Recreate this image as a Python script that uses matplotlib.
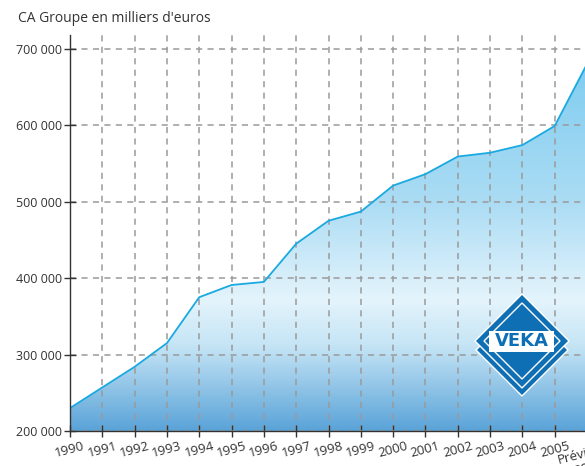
import matplotlib.pyplot as plt
import numpy as np
from matplotlib.colors import LinearSegmentedColormap
from matplotlib.patches import Polygon, Rectangle

years = list(range(1990, 2007))
ca = [230000, 257000, 284000, 315000, 375000, 391000, 395000, 445000,
      475000, 487000, 521000, 536000, 559000, 564000, 574000, 599000, 680000]
labels = [str(y) for y in years[:-1]] + ["Prévision\n2006"]
yticks = [200000, 300000, 400000, 500000, 600000, 700000]

plt.rcParams['font.family'] = ['Open Sans', 'DejaVu Sans']

fig = plt.figure(figsize=(5.85, 4.66), dpi=100)
ax = fig.add_axes([70/585, 1 - 431/466, (587 - 70)/585, (431 - 35)/466])

# degradé bleu sous la courbe
cmap = LinearSegmentedColormap.from_list(
    "veka", [(0.0, "#5aa3d8"), (0.22, "#c4e4f5"), (0.34, "#e4f4fc"),
             (0.6, "#abdcf4"), (1.0, "#7ccbef")])
grad = np.linspace(0, 1, 256).reshape(-1, 1)
img = ax.imshow(grad, cmap=cmap, origin="lower", aspect="auto",
                extent=[1990, 2006, 200000, 700000], zorder=1)
poly = Polygon([(years[0], 200000)] + list(zip(years, ca)) + [(years[-1], 200000)],
               closed=True, transform=ax.transData, facecolor="none", edgecolor="none")
ax.add_patch(poly)
img.set_clip_path(poly)
ax.plot(years, ca, color="#1aa9e0", linewidth=1.3, zorder=3)

ax.set_xlim(1990, 2006)
ax.set_ylim(200000, 718000)
ax.set_xticks(years)
ax.set_xticklabels(labels, rotation=15, fontsize=9.5, color="#333333")
ax.set_yticks(yticks)
ax.set_yticklabels([f"{v:,}".replace(",", " ") for v in yticks], fontsize=9, color="#333333")
ax.grid(True, linestyle=(0, (4, 3.5)), color="#9a9a9a", linewidth=1.1, zorder=2)
ax.set_axisbelow(False)
for s in ["top", "right"]:
    ax.spines[s].set_visible(False)
for s in ["left", "bottom"]:
    ax.spines[s].set_color("#333333")
    ax.spines[s].set_linewidth(1.0)
    ax.spines[s].set_zorder(4)
ax.tick_params(direction="inout", length=8, width=1, color="#333333", pad=2)

fig.text(18/585, 1 - 19/466, "CA Groupe en milliers d'euros", fontsize=10,
         color="#333333", va="center", ha="left")

# logo VEKA (décor)
def diamond(cx, cy, hw, hh, **kw):
    pts = [(cx, cy - hh), (cx + hw, cy), (cx, cy + hh), (cx - hw, cy)]
    pts = [(x / 585, 1 - y / 466) for x, y in pts]
    return Polygon(pts, closed=True, transform=fig.transFigure, **kw)

blue = "#0f6fb5"
fig.patches.append(diamond(522, 350, 46, 46, facecolor=blue, edgecolor="white", linewidth=1, zorder=5))
fig.patches.append(diamond(522, 341, 47, 47, facecolor=blue, edgecolor="white", linewidth=1, zorder=5))
fig.patches.append(diamond(522, 341, 38, 38, facecolor="none", edgecolor="white", linewidth=1, zorder=6))
fig.patches.append(Rectangle((489/585, 1 - 352/466), 65/585, 21/466, transform=fig.transFigure,
                             facecolor="white", edgecolor="none", zorder=7))
fig.text(522/585, 1 - 341.5/466, "VEKA", fontsize=13, fontweight="bold", color=blue,
         ha="center", va="center", zorder=8, family="DejaVu Sans")

fig.savefig("out.png", dpi=100)
